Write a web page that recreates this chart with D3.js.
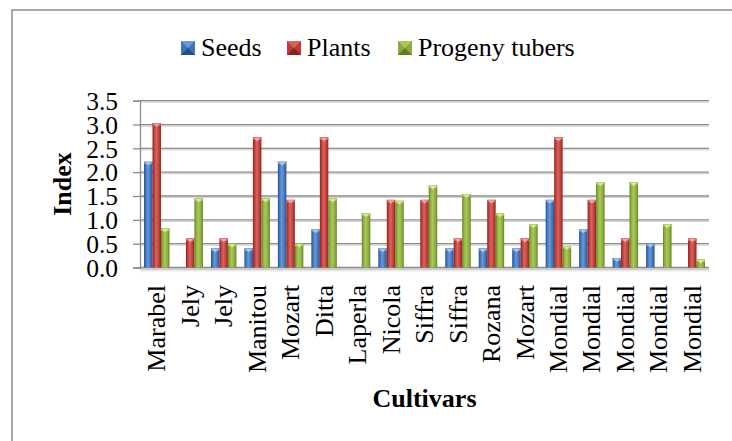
<!DOCTYPE html>
<html>
<head>
<meta charset="utf-8">
<script src="https://cdn.jsdelivr.net/npm/d3@7"></script>
<style>
  html, body { margin: 0; padding: 0; background: #fff; }
</style>
</head>
<body>
<svg id="chart" width="732" height="441"></svg>
<script>
// Cultivar index values per sample
const cultivars = ["Marabel", "Jely", "Jely", "Manitou", "Mozart", "Ditta", "Laperla", "Nicola",
  "Siffra", "Siffra", "Rozana", "Mozart", "Mondial", "Mondial", "Mondial", "Mondial", "Mondial"];
const seeds   = [2.22, 0, 0.4, 0.4, 2.22, 0.8, 0, 0.4, 0, 0.4, 0.4, 0.4, 1.42, 0.8, 0.2, 0.5, 0];
const plants  = [3.03, 0.61, 0.61, 2.73, 1.42, 2.73, 0, 1.42, 1.42, 0.61, 1.42, 0.61, 2.73, 1.42, 0.61, 0, 0.61];
const progeny = [0.82, 1.45, 0.5, 1.45, 0.5, 1.45, 1.14, 1.4, 1.72, 1.54, 1.14, 0.91, 0.45, 1.79, 1.79, 0.91, 0.17];
const seriesNames = ["Seeds", "Plants", "Progeny tubers"];
const yTicks = [0, 0.5, 1, 1.5, 2, 2.5, 3, 3.5];

const FONT = "'Liberation Serif'";
const series = [seeds, plants, progeny];
const palette = [
  { base: "#3f72b8", dark: "#234f8c", light: "#6a98d6", tip: "#a9c6ee" },
  { base: "#bd3a36", dark: "#8a2320", light: "#d86460", tip: "#f0a6a3" },
  { base: "#8aad3b", dark: "#5f7d22", light: "#a9c95a", tip: "#d6ee8f" }
];

const svg = d3.select("#chart");
const plot = { left: 140, right: 709, top: 100.7, bottom: 267.5 };

// outer frame
svg.append("rect").attr("x", 12).attr("y", 10).attr("width", 740).attr("height", 460)
  .attr("fill", "#fff").attr("stroke", "#8c8c8c").attr("stroke-width", 1.5);

const defs = svg.append("defs");
palette.forEach((p, i) => {
  const g = defs.append("linearGradient").attr("id", "bar" + i)
    .attr("x1", "0").attr("x2", "1").attr("y1", "0").attr("y2", "0");
  g.append("stop").attr("offset", "0").attr("stop-color", p.dark);
  g.append("stop").attr("offset", "0.18").attr("stop-color", p.base);
  g.append("stop").attr("offset", "0.45").attr("stop-color", p.light);
  g.append("stop").attr("offset", "0.8").attr("stop-color", p.base);
  g.append("stop").attr("offset", "1").attr("stop-color", p.dark);
});
const shadow = defs.append("linearGradient").attr("id", "floor")
  .attr("x1", "0").attr("x2", "0").attr("y1", "0").attr("y2", "1");
shadow.append("stop").attr("offset", "0").attr("stop-color", "#bdbdbd");
shadow.append("stop").attr("offset", "1").attr("stop-color", "#fff").attr("stop-opacity", 0);

const y = d3.scaleLinear().domain([0, 3.5]).range([plot.bottom, plot.top]);
const x0 = d3.scaleBand().domain(d3.range(cultivars.length)).range([plot.left, plot.right])
  .paddingInner(0.24).paddingOuter(0.12);
const x1 = d3.scaleBand().domain(d3.range(3)).range([0, x0.bandwidth()]);

// gridlines with a soft shadow line underneath
const grid = svg.append("g");
yTicks.forEach(t => {
  grid.append("line").attr("x1", plot.left).attr("x2", plot.right)
    .attr("y1", y(t) + 1.5).attr("y2", y(t) + 1.5).attr("stroke", "#d4d4d4").attr("stroke-width", 1.2);
  grid.append("line").attr("x1", plot.left).attr("x2", plot.right)
    .attr("y1", y(t)).attr("y2", y(t)).attr("stroke", "#8c8c8c").attr("stroke-width", 1.3);
});
svg.append("rect").attr("x", plot.left).attr("y", plot.bottom + 1).attr("width", plot.right - plot.left)
  .attr("height", 5).attr("fill", "url(#floor)");

// y axis
const yAxis = d3.axisLeft(y).tickValues(yTicks).tickFormat(d3.format(".1f")).tickSize(7).tickPadding(15);
const ya = svg.append("g").attr("transform", `translate(${plot.left},0)`).call(yAxis);
ya.select(".domain").attr("stroke", "#8c8c8c").attr("stroke-width", 1.3);
ya.selectAll(".tick line").attr("stroke", "#8c8c8c").attr("stroke-width", 1.3);
ya.selectAll(".tick text").attr("fill", "#000").attr("dy", "0.34em")
  .style("font-family", FONT).style("font-size", "25.5px");

// bars
const groups = svg.append("g").selectAll("g").data(cultivars).join("g")
  .attr("transform", (d, i) => `translate(${x0(i)},0)`);
groups.each(function (d, i) {
  const g = d3.select(this);
  series.forEach((s, k) => {
    const v = s[i];
    if (v <= 0) return;
    const bx = x1(k), bw = x1.bandwidth(), top = y(v);
    g.append("rect").attr("x", bx).attr("y", top).attr("width", bw)
      .attr("height", plot.bottom - top).attr("fill", `url(#bar${k})`);
    // bevelled top face
    g.append("rect").attr("x", bx).attr("y", top).attr("width", bw).attr("height", 2.5)
      .attr("fill", palette[k].light);
    g.append("path")
      .attr("d", `M${bx + 1},${top + 0.5}L${bx + bw - 1},${top + 0.5}L${bx + bw / 2},${top + 4}Z`)
      .attr("fill", palette[k].tip);
  });
});

// x tick labels
svg.append("g").selectAll("text").data(cultivars).join("text")
  .attr("transform", (d, i) => `translate(${x0(i) + x0.bandwidth() / 2},285) rotate(-90)`)
  .attr("text-anchor", "end").attr("dy", "0.33em").attr("fill", "#000")
  .style("font-family", FONT).style("font-size", "26px").text(d => d);

// axis titles
svg.append("text").attr("transform", "translate(71,184) rotate(-90)")
  .attr("text-anchor", "middle").style("font-family", FONT).style("font-size", "26px")
  .style("font-weight", "bold").text("Index");
svg.append("text").attr("x", (plot.left + plot.right) / 2).attr("y", 407)
  .attr("text-anchor", "middle").style("font-family", FONT).style("font-size", "26px")
  .style("font-weight", "bold").text("Cultivars");

// legend
const legendX = [181, 287, 398];
const leg = svg.append("g");
seriesNames.forEach((n, k) => {
  const lx = legendX[k];
  const p = palette[k];
  leg.append("rect").attr("x", lx).attr("y", 41).attr("width", 14).attr("height", 14).attr("fill", p.base);
  leg.append("path").attr("d", `M${lx},${41}L${lx + 14},${41}L${lx + 7},${48}Z`).attr("fill", p.light);
  leg.append("path").attr("d", `M${lx},${55}L${lx + 14},${55}L${lx + 7},${48}Z`).attr("fill", p.dark);
  leg.append("text").attr("x", lx + 20).attr("y", 56).attr("fill", "#000")
    .style("font-family", FONT).style("font-size", "26px").text(n);
});
</script>
</body>
</html>
